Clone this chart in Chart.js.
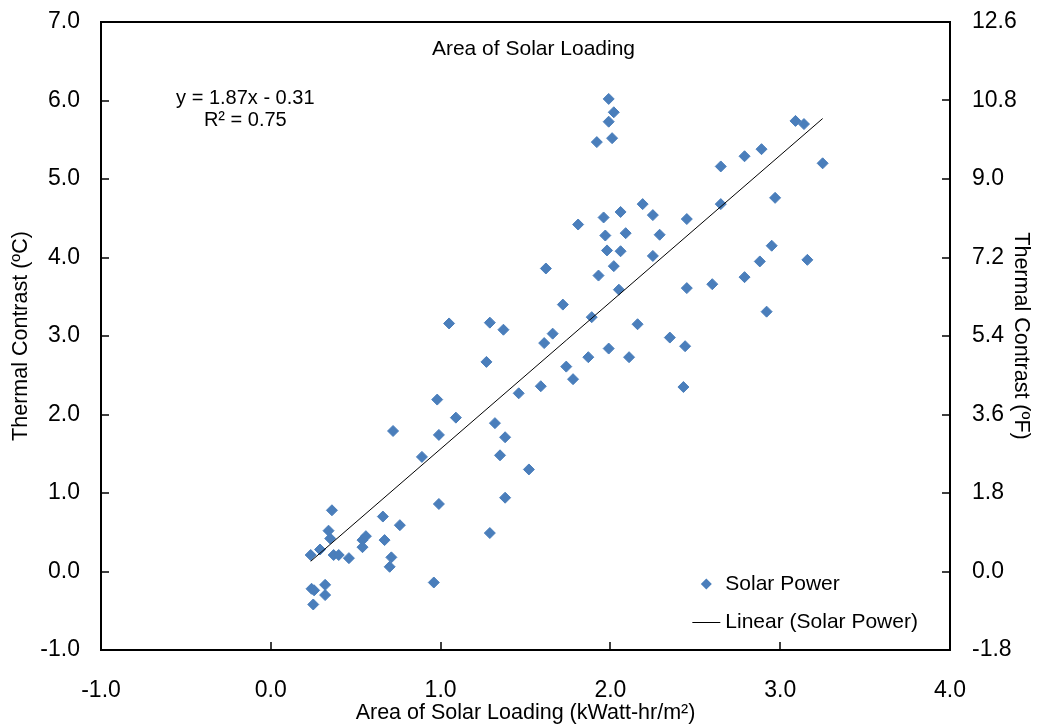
<!DOCTYPE html>
<html>
<head>
<meta charset="utf-8">
<script src="https://cdn.jsdelivr.net/npm/chart.js@4.4.1/dist/chart.umd.min.js"></script>
<style>
  html, body { margin: 0; padding: 0; background: #fff; }
  #contenedor { width: 1037px; height: 724px; }
</style>
</head>
<body>
<div id="contenedor"><canvas id="graficaSolar"></canvas></div>
<script>
// carga solar (kWatt-hr/m2) y contraste termico (C)
const cargaSolar = [
  0.235, 0.24, 0.255, 0.25, 0.29, 0.32, 0.32, 0.34, 0.35, 0.36, 0.37, 0.40, 0.46,
  0.54, 0.56, 0.54, 0.66, 0.67, 0.71, 0.70, 0.72, 0.76, 0.89, 0.98, 0.99, 0.99, 0.96,
  1.05, 1.09, 1.27, 1.29, 1.29, 1.32, 1.35, 1.37, 1.38, 1.38, 1.46, 1.52, 1.59, 1.61,
  1.62, 1.66, 1.72, 1.74, 1.78, 1.81, 1.87, 1.89, 1.92, 1.93, 1.96, 1.97, 1.98, 1.99,
  1.99, 1.99, 2.01, 2.02, 2.02, 2.05, 2.06, 2.06, 2.09, 2.11, 2.16, 2.19, 2.25, 2.25,
  2.29, 2.35, 2.43, 2.44, 2.45, 2.45, 2.60, 2.65, 2.65, 2.79, 2.79, 2.88, 2.89, 2.92,
  2.95, 2.97, 3.09, 3.14, 3.16, 3.25
];
const contrasteC = [
  0.21, -0.22, -0.24, -0.42, 0.28, -0.17, -0.30, 0.52, 0.42, 0.78, 0.21, 0.21, 0.17,
  0.40, 0.45, 0.31, 0.70, 0.40, 0.18, 0.06, 1.79, 0.59, 1.46, 2.19, 1.74, 0.86, -0.14,
  3.16, 1.96, 2.67, 3.17, 0.49, 1.89, 1.48, 3.08, 1.71, 0.94, 2.27, 1.30, 2.36, 2.91,
  3.86, 3.03, 3.40, 2.61, 2.45, 4.42, 2.73, 3.24, 5.47, 3.77, 4.51, 4.28, 4.09, 2.84,
  5.73, 6.02, 5.52, 5.85, 3.89, 3.59, 4.58, 4.08, 4.31, 2.73, 3.15, 4.68, 4.54, 4.02,
  4.29, 2.98, 2.35, 2.87, 4.49, 3.61, 3.66, 5.16, 4.68, 5.29, 3.75, 3.95, 5.38, 3.31,
  4.15, 4.76, 5.74, 5.70, 3.97, 5.20
];
// linea de tendencia (extremos)
const tendenciaX = [0.235, 3.25];
const tendenciaY = [0.13, 5.77];

const rangoX = [-1, 4, 1];
const rangoC = [-1, 7, 1];
const rangoF = [-1.8, 12.6, 1.8];

const tituloInterno = 'Area of Solar Loading';
const ecuacion = ['y = 1.87x - 0.31', 'R² = 0.75'];
const leyenda = ['Solar Power', 'Linear (Solar Power)'];

const azul = '#4a7ebb';
const fuente = '"Liberation Sans", Arial, sans-serif';

Chart.defaults.font.family = fuente;
Chart.defaults.color = '#000';

const puntos = cargaSolar.map((x, i) => ({ x: x, y: contrasteC[i] }));
const tendencia = tendenciaX.map((x, i) => ({ x: x, y: tendenciaY[i] }));

// marco, marcas interiores, textos y leyenda
const extras = {
  id: 'extras',
  afterDraw(chart) {
    const ctx = chart.ctx;
    const a = chart.chartArea;
    const sx = chart.scales.x, sy = chart.scales.y, sf = chart.scales.y2;
    ctx.save();
    ctx.strokeStyle = '#000';
    ctx.lineWidth = 2;
    ctx.strokeRect(a.left, a.top, a.right - a.left, a.bottom - a.top);
    ctx.lineWidth = 1.5;
    ctx.beginPath();
    sx.ticks.forEach(t => {
      const p = Math.round(sx.getPixelForValue(t.value));
      ctx.moveTo(p, a.bottom); ctx.lineTo(p, a.bottom - 8);
    });
    sy.ticks.forEach(t => {
      const p = Math.round(sy.getPixelForValue(t.value));
      ctx.moveTo(a.left, p); ctx.lineTo(a.left + 8, p);
    });
    sf.ticks.forEach(t => {
      const p = Math.round(sf.getPixelForValue(t.value));
      ctx.moveTo(a.right, p); ctx.lineTo(a.right - 8, p);
    });
    ctx.stroke();

    ctx.fillStyle = '#000';
    ctx.textBaseline = 'middle';
    ctx.textAlign = 'center';
    ctx.font = '21px ' + fuente;
    ctx.fillText(tituloInterno, sx.getPixelForValue(1.547), sy.getPixelForValue(6.656));
    ctx.font = '20px ' + fuente;
    ctx.fillText(ecuacion[0], sx.getPixelForValue(-0.15), sy.getPixelForValue(6.02));
    ctx.fillText(ecuacion[1], sx.getPixelForValue(-0.15), sy.getPixelForValue(5.74));

    // leyenda
    const lx = sx.getPixelForValue(2.565);
    const ly1 = sy.getPixelForValue(-0.16);
    const ly2 = Math.round(sy.getPixelForValue(-0.643)) + 0.5;
    ctx.fillStyle = azul;
    ctx.beginPath();
    ctx.moveTo(lx - 5.5, ly1); ctx.lineTo(lx, ly1 - 5.5); ctx.lineTo(lx + 5.5, ly1); ctx.lineTo(lx, ly1 + 5.5);
    ctx.closePath();
    ctx.fill();
    ctx.strokeStyle = '#000';
    ctx.lineWidth = 1;
    ctx.beginPath();
    ctx.moveTo(lx - 14, ly2); ctx.lineTo(lx + 14, ly2);
    ctx.stroke();
    ctx.fillStyle = '#000';
    ctx.textAlign = 'left';
    ctx.font = '21px ' + fuente;
    ctx.fillText(leyenda[0], lx + 19, ly1);
    ctx.fillText(leyenda[1], lx + 19, ly2);
    ctx.restore();
  }
};

new Chart(document.getElementById('graficaSolar'), {
  type: 'scatter',
  data: {
    datasets: [
      {
        label: leyenda[0],
        data: puntos,
        pointStyle: 'rectRot',
        pointRadius: 5.5,
        backgroundColor: azul,
        borderColor: azul,
        borderWidth: 1,
        order: 2
      },
      {
        label: leyenda[1],
        data: tendencia,
        showLine: true,
        borderColor: '#000',
        borderWidth: 1,
        pointRadius: 0,
        order: 1
      }
    ]
  },
  options: {
    responsive: true,
    maintainAspectRatio: false,
    animation: false,
    layout: { padding: { top: 22, left: 0, right: 0, bottom: 0 } },
    plugins: {
      legend: { display: false },
      tooltip: { enabled: false }
    },
    scales: {
      x: {
        type: 'linear',
        position: 'bottom',
        min: rangoX[0], max: rangoX[1],
        ticks: { stepSize: rangoX[2], callback: v => v.toFixed(1), font: { size: 23 }, padding: 27 },
        grid: { drawOnChartArea: false, drawTicks: false },
        border: { display: false },
        title: { display: true, text: 'Area of Solar Loading (kWatt-hr/m²)', font: { size: 21.5 }, padding: { top: 0, bottom: -2 } },
        afterFit: s => { s.height = 74; s.paddingLeft = 0; s.paddingRight = 0; }
      },
      y: {
        type: 'linear',
        position: 'left',
        min: rangoC[0], max: rangoC[1],
        ticks: { stepSize: rangoC[2], callback: v => v.toFixed(1), font: { size: 23 }, padding: 21 },
        grid: { drawOnChartArea: false, drawTicks: false },
        border: { display: false },
        title: { display: true, text: 'Thermal Contrast (ºC)', font: { size: 21.5 }, padding: 8 },
        afterFit: s => { s.width = 101; s.paddingTop = 0; s.paddingBottom = 0; }
      },
      y2: {
        type: 'linear',
        position: 'right',
        min: rangoF[0], max: rangoF[1],
        ticks: { stepSize: rangoF[2], callback: v => v.toFixed(1), font: { size: 23 }, padding: 22 },
        grid: { drawOnChartArea: false, drawTicks: false },
        border: { display: false },
        title: { display: true, text: 'Thermal Contrast (ºF)', font: { size: 21.5 }, padding: 3 },
        afterFit: s => { s.width = 87; s.paddingTop = 0; s.paddingBottom = 0; }
      }
    }
  },
  plugins: [extras]
});
</script>
</body>
</html>
